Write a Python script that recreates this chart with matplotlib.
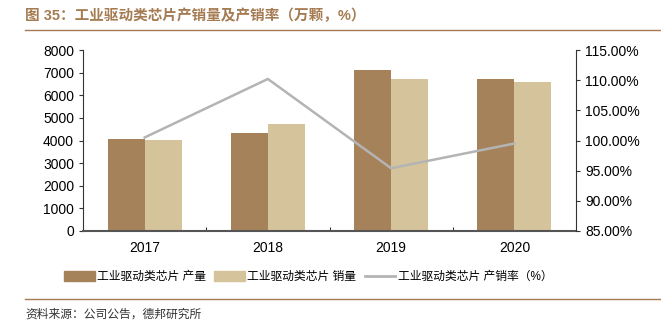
import numpy as np
import matplotlib.pyplot as plt
from matplotlib.ticker import FuncFormatter
from matplotlib.lines import Line2D

plt.rcParams['font.family'] = ['Liberation Sans', 'Noto Sans CJK SC']

# data
years = ['2017', '2018', '2019', '2020']
production = [4080, 4330, 7130, 6700]
sales = [4040, 4720, 6700, 6600]
rate = [100.5, 110.2, 95.4, 99.5]

dark = '#A6825A'
light = '#D5C39B'
grey = '#B4B4B4'
brown = '#A57B52'

fig = plt.figure(figsize=(6.61, 3.30), dpi=100)
ax = fig.add_axes([83 / 661, 1 - 231 / 330, 493 / 661, 181 / 330])
ax2 = ax.twinx()

x = np.arange(len(years))
w = 0.3
ax.bar(x - w / 2, production, w, color=dark, zorder=2)
ax.bar(x + w / 2, sales, w, color=light, zorder=2)
ax2.plot(x, rate, color=grey, lw=1.8)

ax.set_xlim(-0.5, 3.5)
ax.set_ylim(0, 8000)
ax.set_yticks(range(0, 8001, 1000))
ax2.set_ylim(85, 115)
ax2.set_yticks(range(85, 116, 5))
ax2.yaxis.set_major_formatter(FuncFormatter(lambda v, p: f'{v:.2f}%'))

# category labels in the middle, small ticks between categories
ax.set_xticks([0.5, 1.5, 2.5])
ax.set_xticklabels([])
ax.set_xticks(x, minor=True)
ax.set_xticklabels(years, minor=True)
ax.tick_params(axis='x', which='minor', length=0, labelsize=10, pad=7)
ax.tick_params(axis='x', which='major', length=3, direction='in', color='#333333')

for a in (ax, ax2):
    a.spines['top'].set_visible(False)
    a.tick_params(axis='y', length=3, color='#333333', labelsize=10)
ax.spines['right'].set_visible(False)
ax2.spines['left'].set_visible(False)
ax2.spines['bottom'].set_visible(False)
ax.spines['bottom'].set_color('#555555')
ax.spines['bottom'].set_linewidth(1.5)
ax.spines['left'].set_color('#333333')
ax2.spines['right'].set_color('#333333')

handles = [
    plt.Rectangle((0, 0), 1, 1, color=dark),
    plt.Rectangle((0, 0), 1, 1, color=light),
    Line2D([0], [0], color=grey, lw=2),
]
labels = ['工业驱动类芯片 产量', '工业驱动类芯片 销量', '工业驱动类芯片 产销率（%）']
fig.legend(handles, labels, loc='center', bbox_to_anchor=(0.466, 1 - 277 / 330), ncol=3,
           frameon=False, fontsize=8.5, handlelength=2.6, handleheight=0.9,
           handletextpad=0.2, columnspacing=0.7)

fig.text(25 / 661, 1 - 16 / 330, '图 35：工业驱动类芯片产销量及产销率（万颗，%）',
         color=brown, fontsize=10.5, fontweight='bold', va='center')
fig.add_artist(Line2D([25 / 661, 1], [1 - 30 / 330] * 2, color=brown, lw=1))
fig.add_artist(Line2D([25 / 661, 1], [1 - 299 / 330] * 2, color=brown, lw=1))
fig.text(25 / 661, 1 - 315 / 330, '资料来源：公司公告，德邦研究所',
         color='#333333', fontsize=8.5, va='center')

fig.savefig('out.png', dpi=100)
